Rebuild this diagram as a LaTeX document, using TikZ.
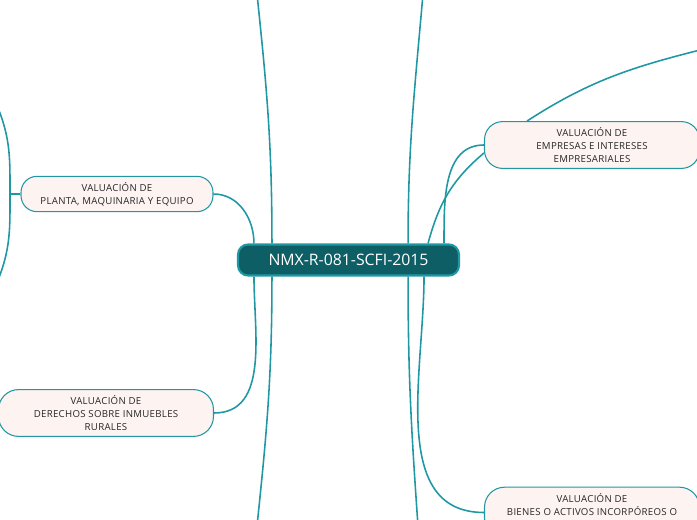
\documentclass[tikz,border=0pt]{standalone}
\usepackage{fontspec}
\setmainfont{Open Sans}[LetterSpace=3]
\newfontfamily\rootfont{Open Sans}
\usepackage{tikz}
\usetikzlibrary{shapes,positioning,calc}
\definecolor{mapteal}{RGB}{32, 152, 164}
\definecolor{centerfill}{RGB}{14, 94, 102}
\definecolor{topicfill}{RGB}{253, 243, 241}

\begin{document}
\begin{tikzpicture}[
    x=0.02cm, y=-0.02cm,
    every node/.style={align=center},
    root/.style={rectangle, rounded corners=0.2cm, minimum width=4.42cm, minimum height=0.62cm, text centered, draw=mapteal, fill=centerfill, line width=1.2pt, text=white, font=\rootfont\fontsize{9}{10}\selectfont},
    topic/.style={rectangle, rounded corners=0.36cm, minimum width=4.3cm, minimum height=0.88cm, text centered, draw=mapteal, fill=topicfill, line width=0.6pt, text=black!85, font=\fontsize{5.5}{7.4}\selectfont},
    branch/.style={draw=mapteal, line width=0.9pt}
]

\useasboundingbox (0,0) rectangle (697,520);
\clip (0,0) rectangle (697,520);

% central topic
\node[root] (nmx) at (348.5,260) {NMX-R-081-SCFI-2015};

% main topics
\node[topic, minimum width=3.84cm, minimum height=0.64cm, rounded corners=0.32cm] (planta) at (117,194) {VALUACIÓN DE\\PLANTA, MAQUINARIA Y EQUIPO};
\node[topic, minimum height=0.9cm, rounded corners=0.4cm] (derechos) at (106,413) {VALUACIÓN DE\\DERECHOS SOBRE INMUEBLES\\RURALES};
\node[topic] (empresas) at (592,145) {VALUACIÓN DE\\EMPRESAS E INTERESES\\EMPRESARIALES};
\node[topic, minimum height=0.9cm, rounded corners=0.4cm] (bienes) at (592,512.5) {VALUACIÓN DE\\BIENES O ACTIVOS INCORPÓREOS O\\\strut};

% free ends of the branches leaving the page
\coordinate (upleft) at (257,-6);
\coordinate (downleft) at (257,526);
\coordinate (upright) at (423,-6);
\coordinate (downright) at (418,526);
\coordinate (farright) at (712,47);
\coordinate (plantajoin) at (10,194);
\coordinate (plantaup) at (-2,108);
\coordinate (plantadown) at (-2,280);

% branches
\draw[branch] ([xshift=0.34cm]nmx.north west) to[out=90,in=0] (planta.east);
\draw[branch] ([xshift=0.34cm]nmx.south west) to[out=-90,in=0] (derechos.east);
\draw[branch] ([xshift=0.7cm]nmx.north west) to[out=90,in=-84] (upleft);
\draw[branch] ([xshift=0.7cm]nmx.south west) to[out=-90,in=84] (downleft);
\draw[branch] ([xshift=-1.04cm]nmx.north east) to[out=90,in=-95] (upright);
\draw[branch] ([xshift=-1.04cm]nmx.south east) to[out=-90,in=94] (downright);
\draw[branch] ([xshift=-0.32cm]nmx.north east) to[out=90,in=180] (empresas.west);
\draw[branch] ([xshift=-0.64cm]nmx.north east) to[out=75,in=-140] ([yshift=-0.16cm]empresas.west);
\draw[branch] ([xshift=-0.72cm]nmx.south east) to[out=-90,in=180] (bienes.west);
\draw[branch] ([xshift=-1.3cm]empresas.north) to[out=33,in=-166] (farright);
\draw[branch] (planta.west) -- (plantajoin);
\draw[branch] (plantajoin) to[out=90,in=-68] (plantaup);
\draw[branch] (plantajoin) to[out=-90,in=68] (plantadown);

\end{tikzpicture}
\end{document}
